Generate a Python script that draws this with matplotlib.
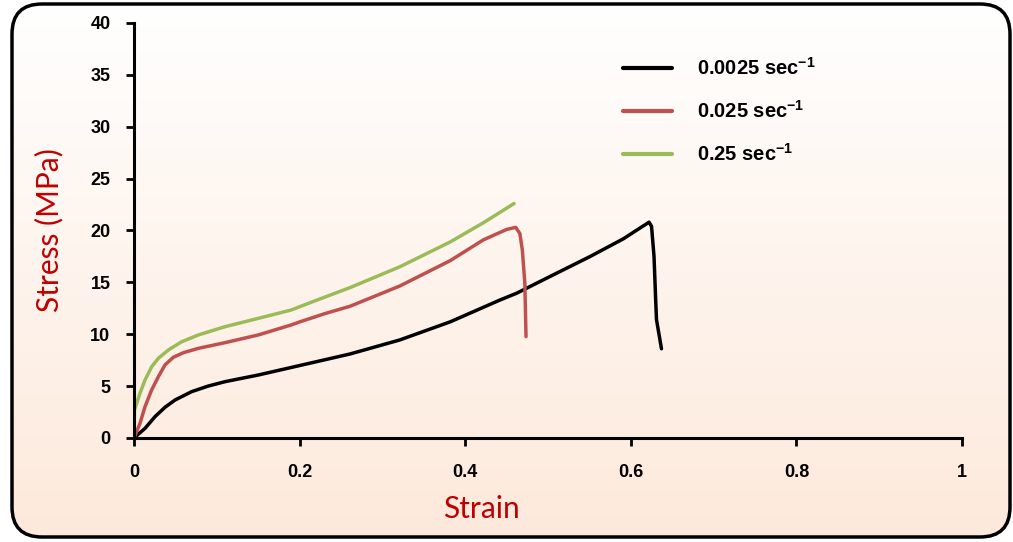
import numpy as np
import matplotlib
matplotlib.use('Agg')
import matplotlib.pyplot as plt
from matplotlib.patches import FancyBboxPatch

plt.rcParams['font.family'] = ['Lato', 'DejaVu Sans']
plt.rcParams['mathtext.default'] = 'regular'
plt.rcParams['axes.unicode_minus'] = False

# strain / stress
strain_slow = [0, 0.0133, 0.0254, 0.0374, 0.0495, 0.0697, 0.0898, 0.11, 0.13, 0.15, 0.19,
               0.231, 0.261, 0.321, 0.382, 0.442, 0.462, 0.502, 0.551, 0.591, 0.622,
               0.625, 0.628, 0.630, 0.631, 0.637]
stress_slow = [0, 0.93, 2.06, 2.96, 3.66, 4.47, 5.01, 5.43, 5.75, 6.07, 6.8,
               7.55, 8.1, 9.45, 11.2, 13.3, 13.95, 15.55, 17.5, 19.2, 20.8,
               20.4, 17.5, 13.3, 11.4, 8.6]

strain_mid = [0, 0.0072, 0.0133, 0.0213, 0.0294, 0.0374, 0.0475, 0.0596, 0.0777, 0.11,
              0.15, 0.19, 0.2005, 0.231, 0.261, 0.321, 0.382, 0.422, 0.45, 0.461,
              0.466, 0.469, 0.472, 0.4734]
stress_mid = [0, 1.41, 3.02, 4.63, 5.91, 7.04, 7.78, 8.22, 8.64, 9.19,
              9.93, 10.9, 11.2, 12.0, 12.7, 14.65, 17.1, 19.1, 20.1, 20.3,
              19.7, 18.1, 14.9, 9.77]

strain_fast = [0, 0.0005, 0.0072, 0.0133, 0.0213, 0.0294, 0.0415, 0.0576, 0.0777, 0.11,
               0.15, 0.19, 0.2146, 0.261, 0.321, 0.382, 0.422, 0.459]
stress_fast = [0, 2.7, 4.31, 5.59, 6.87, 7.68, 8.48, 9.28, 9.93, 10.73,
               11.53, 12.34, 13.1, 14.5, 16.5, 18.9, 20.75, 22.6]

labels = [r'0.0025 sec$^{-1}$', r'0.025 sec$^{-1}$', r'0.25 sec$^{-1}$']
colors = ['#000000', '#c0504d', '#9bbb59']

fig = plt.figure(figsize=(10.13, 5.42), dpi=100)

# background panel with gradient and rounded border
bg = fig.add_axes([0, 0, 1, 1], zorder=-1)
bg.set_xlim(0, 1013)
bg.set_ylim(542, 0)
bg.axis('off')
grad = np.linspace(0, 1, 256)[:, None]
top = np.array([1.0, 1.0, 1.0])
bot = np.array([253, 233, 219]) / 255
img = top + (bot - top) * grad[:, :, None]
im = bg.imshow(img, extent=(0, 1013, 542, 0), aspect='auto')
box = FancyBboxPatch((12, 4), 998, 533, boxstyle='round,pad=0,rounding_size=30',
                     facecolor='none', edgecolor='black', linewidth=2.5)
bg.add_patch(box)
im.set_clip_path(box)

ax = fig.add_axes([0.1323, 0.1919, 0.8174, 0.7657])
ax.patch.set_alpha(0)
for x, y, c, lab in zip([strain_slow, strain_mid, strain_fast],
                        [stress_slow, stress_mid, stress_fast], colors, labels):
    ax.plot(x, y, color=c, lw=2.5, label=lab, solid_capstyle='round',
            solid_joinstyle='round')

bold_fam = ['Liberation Sans', 'DejaVu Sans']
bold = {'family': bold_fam, 'weight': 'bold'}
ax.set_xlim(0, 1)
ax.set_ylim(0, 40)
ax.set_xticks(np.arange(0, 1.01, 0.2))
ax.set_xticklabels(['0', '0.2', '0.4', '0.6', '0.8', '1'], fontdict=bold, fontsize=13)
ax.set_yticks(np.arange(0, 41, 5))
ax.set_yticklabels([str(v) for v in range(0, 41, 5)], fontdict=bold, fontsize=13)
for s in ['top', 'right']:
    ax.spines[s].set_visible(False)
for s in ['left', 'bottom']:
    ax.spines[s].set_linewidth(2.2)
ax.tick_params(width=2, length=6)
ax.tick_params(axis='x', pad=13)
ax.tick_params(axis='y', pad=11)

ax.set_xlabel('Strain', color='#c00000', fontsize=21.5)
ax.xaxis.set_label_coords(0.42, -0.137)
ax.set_ylabel('Stress (MPa)', color='#c00000', fontsize=21.5, labelpad=19)

leg = ax.legend(loc='upper left', bbox_to_anchor=(0.569, 0.962), frameon=False,
                handlelength=2.4, handletextpad=1.25, labelspacing=1.05,
                prop={'family': bold_fam, 'size': 14.5, 'weight': 'bold'})
for h in leg.get_lines():
    h.set_linewidth(3)

fig.savefig('out.png', dpi=100)
